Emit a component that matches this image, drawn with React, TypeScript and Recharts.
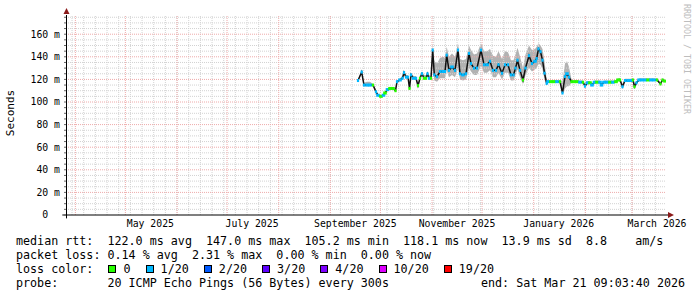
import { Area, ComposedChart, Line, ReferenceDot, ReferenceLine, XAxis, YAxis } from 'recharts';

// time axis: days since graph start (end - 360 days)
const START = new Date(2025, 2, 26, 9, 3, 40).getTime();
const SPAN_DAYS = 360;
const Y_MAX = 177;
const dayOf = (y: number, m: number, d: number) => (new Date(y, m, d).getTime() - START) / 864e5;

const days = [
  175.2, 177.4, 178.8, 180.6, 182.4, 184.2, 186.0, 187.2, 189.0, 190.5, 191.4, 192.9, 194.4, 196.2, 197.7, 198.6,
  200.4, 201.9, 202.8, 204.0, 205.2, 206.1, 207.0, 208.5, 210.0, 211.2, 212.4, 213.6, 214.8, 216.0, 216.9, 217.8, 219.0,
  220.0, 221.0, 222.6, 224.4, 226.2, 227.4, 228.4, 229.8, 231.6, 233.4, 235.2, 236.4, 238.2, 240.0, 241.8, 243.0,
  244.8, 246.6, 249.0, 250.8, 252.6, 254.4, 256.2, 258.0, 259.5, 261.6, 263.4, 265.2, 267.0, 268.5, 269.7, 270.9,
  272.4, 274.2, 275.7, 277.8, 279.6, 281.4, 282.4, 283.5, 284.7, 285.9, 287.1, 288.4,
  289.2, 291.0, 292.8, 294.6, 296.4, 297.9, 299.4, 300.6, 301.8, 303.3, 304.8, 306.6, 308.4, 310.2, 311.4, 312.9,
  314.4, 315.6, 317.1, 318.6, 320.4, 321.3, 322.8, 324.6, 326.4, 328.2, 330.0, 331.2, 332.4, 333.9, 335.4, 337.2,
  339.0, 340.2, 341.1, 342.3, 343.8, 345.6, 347.4, 349.2, 351.0, 352.8, 354.6, 356.7, 357.9, 359.4,
];

// median rtt in ms
const medianMs = [
  119, 126.5, 115, 115, 115, 115, 109, 106, 105, 106, 108, 111, 112, 112, 110, 118,
  119.5, 121, 126, 122, 122, 112, 124, 121, 121, 114.5, 121, 125, 121, 121, 125, 121, 121,
  146, 124, 122.5, 127, 127, 127, 141.5, 128, 131, 128, 146, 125, 124, 125, 143, 134,
  130, 130, 146, 133, 133, 136, 128, 128, 133, 125.5, 133, 133, 124, 124, 130, 137,
  128, 119.5, 130, 141, 134, 136, 138.5, 147, 144.5, 137, 125.5, 116.5,
  118, 118, 118, 118, 118, 108, 122.5, 125, 122, 118, 118, 118, 117.5, 117.5, 114, 117,
  117, 115, 117.5, 117.5, 117.5, 115, 117.5, 117.5, 117.5, 117.5, 118, 119.5, 119.5, 113.5, 119, 119,
  119, 119.5, 113.5, 117, 119.5, 119.5, 119.5, 119.5, 119.5, 119.5, 119.5, 116, 119.5, 118.5,
];

// lost pings out of 20
const lossOf20 = [
  1, 1, 1, 1, 1, 0, 1, 1, 0, 1, 0, 1, 0, 0, 0, 1,
  1, 1, 1, 1, 1, 0, 1, 1, 1, 0, 0, 1, 0, 0, 1, 1, 0,
  1, 1, 1, 1, 1, 1, 1, 1, 1, 1, 1, 1, 1, 1, 1, 1,
  1, 1, 1, 1, 1, 1, 1, 1, 1, 1, 1, 1, 1, 1, 1, 1,
  1, 0, 1, 1, 1, 1, 1, 1, 1, 1, 1, 1,
  1, 0, 0, 1, 0, 1, 1, 1, 1, 0, 0, 0, 1, 0, 1, 1,
  0, 1, 1, 0, 1, 1, 1, 1, 0, 1, 0, 0, 0, 1, 1, 1,
  1, 0, 0, 1, 1, 1, 1, 0, 1, 1, 0, 0, 0, 0,
];

// smoke extent (ms)
const smokeLoMs = [
  118, 125, 114, 114, 114, 114, 108, 105, 104, 105, 107, 110, 111, 111, 109, 117,
  118.5, 120, 125, 121, 121, 111, 123, 120, 120, 113.5, 120, 124, 120, 120, 124, 120, 120,
  132, 119, 118, 121, 121, 121, 128, 122, 124, 122, 130, 120, 119, 120, 130, 127,
  124, 124, 132, 126, 126, 128, 122, 122, 126, 120, 126, 126, 119, 119, 124, 129,
  122, 116, 124, 130, 127, 129, 130, 134, 133, 129, 120, 115,
  117, 117, 117, 117, 117, 107, 112, 114, 114, 117, 117, 117, 116.5, 116.5, 113, 116,
  116, 114, 116.5, 116.5, 116.5, 114, 116.5, 116.5, 116.5, 116.5, 117, 118.5, 118.5, 112.5, 118, 118,
  118, 118.5, 112.5, 116, 118.5, 118.5, 118.5, 118.5, 118.5, 118.5, 118.5, 115, 118.5, 117.5,
];
const smokeHiMs = [
  120, 128, 117, 118, 118, 116, 110, 107, 106, 107, 109, 112, 113, 113, 111, 119,
  121, 123, 128, 124, 124, 113, 126, 123, 123, 116, 124, 127, 124, 124, 127, 124, 123,
  150, 136, 134, 139, 140, 139, 149, 140, 143, 140, 152, 138, 137, 138, 150, 146,
  142, 143, 152, 145, 145, 147, 141, 140, 145, 138, 145, 144, 137, 137, 142, 148,
  140, 130, 142, 150, 146, 147, 149, 152, 150, 147, 136, 120,
  119.5, 119.5, 119.5, 119.5, 119.5, 118, 134, 136, 131, 120, 119.5, 119.5, 119, 119, 116, 118.5,
  118.5, 116.5, 119, 119, 119, 116.5, 119, 119, 119, 119, 119.5, 121, 121, 116, 120.5, 120.5,
  120.5, 121, 116, 118.5, 121, 121, 121, 121, 121, 121, 121, 117.5, 121, 120,
];

const lossSteps = ['0', '1/20', '2/20', '3/20', '4/20', '10/20', '19/20'];
const lossColors = ['#26ff00', '#00b8ff', '#0059ff', '#5e00ff', '#7e00ff', '#dd00ff', '#ff0000'];

const monthLabels = ['May 2025', 'July 2025', 'September 2025', 'November 2025', 'January 2026', 'March 2026'];
const labelMonths: [number, number][] = [[2025, 4], [2025, 6], [2025, 8], [2025, 10], [2026, 0], [2026, 2]];

const rows = days.map((t, i) => ({
  t,
  med: medianMs[i],
  loss: lossOf20[i],
  smoke: [smokeLoMs[i], smokeHiMs[i]],
  // steep points get a short colour mark so the black trace shows through
  steep:
    Math.abs(medianMs[i] - (medianMs[i - 1] ?? medianMs[i])) > 3 ||
    Math.abs(medianMs[i] - (medianMs[i + 1] ?? medianMs[i])) > 3,
}));

const monthLines: number[] = [];
for (let m = 3; m < 15; m++) monthLines.push(dayOf(2025, m, 1));
const weekLines: number[] = [];
for (let d = dayOf(2025, 2, 30), i = 0; d < SPAN_DAYS; i++, d = dayOf(2025, 2, 30 + 7 * i)) weekLines.push(d);
const labelTicks = labelMonths.map(([y, m]) => dayOf(y, m, 1) + 15);

const minorY: number[] = [];
for (let v = 5; v <= 175; v += 5) if (v % 20) minorY.push(v);
const majorY = [20, 40, 60, 80, 100, 120, 140, 160];
const yTicks: number[] = [];
for (let v = 0; v <= 175; v += 5) yTicks.push(v);

const MONO = '"DejaVu Sans Mono", monospace';

const lossColor = (n: number) => lossColors[n === 0 ? 0 : n === 1 ? 1 : n === 2 ? 2 : n === 3 ? 3 : n <= 5 ? 4 : n <= 10 ? 5 : 6];

// eslint-disable-next-line @typescript-eslint/no-explicit-any
const LossDot = (p: any) => {
  if (p.cx == null || p.cy == null) return <g key={p.index} />;
  const w = p.payload.steep ? 2.2 : 3.6;
  return <rect key={p.index} x={p.cx - w / 2} y={p.cy - 1.5} width={w} height={3} fill={lossColor(p.payload.loss)} />;
};

// eslint-disable-next-line @typescript-eslint/no-explicit-any
const YTick = ({ x, y, payload }: any) => {
  const v = payload.value as number;
  if (v % 20) return <g />;
  return (
    <text x={x} y={y} dy="0.35em" textAnchor="end" fontSize={9.8} fontFamily={MONO} fill="#000" style={{ whiteSpace: 'pre' }}>
      {v === 0 ? '0\u00a0\u00a0' : `${v} m`}
    </text>
  );
};

// eslint-disable-next-line @typescript-eslint/no-explicit-any
const XTick = ({ x, y, payload, index }: any) => (
  <text x={x} y={y} dy="0.71em" textAnchor="middle" fontSize={9.8} fontFamily={MONO} fill="#000">
    {monthLabels[index] ?? String(payload.value)}
  </text>
);

const ARROW = '#8b1a1a';

export default function App() {
  const legendLine = { position: 'absolute' as const, left: 16, whiteSpace: 'pre' as const, fontFamily: MONO, fontSize: 11.7, lineHeight: '14px', color: '#000' };
  return (
    <div style={{ position: 'absolute', left: 0, top: 0, width: 697, height: 297, background: '#fff', overflow: 'hidden' }}>
      <ComposedChart width={697} height={297} data={rows} margin={{ top: 15, right: 31, bottom: 52, left: 0 }}>
        {minorY.map((v) => (
          <ReferenceLine key={`hy${v}`} y={v} stroke="#d2d2d2" strokeDasharray="1 1" />
        ))}
        {weekLines.map((d) => (
          <ReferenceLine key={`wx${d}`} x={d} stroke="#d2d2d2" strokeDasharray="1 1" />
        ))}
        {majorY.map((v) => (
          <ReferenceLine key={`my${v}`} y={v} stroke="#eeaaaa" strokeDasharray="1 1" />
        ))}
        {monthLines.map((d) => (
          <ReferenceLine key={`mx${d}`} x={d} stroke="#eeaaaa" strokeDasharray="1 1" />
        ))}

        <XAxis
          type="number"
          dataKey="t"
          domain={[0, SPAN_DAYS]}
          allowDataOverflow
          ticks={labelTicks}
          tick={<XTick />}
          tickLine={false}
          axisLine={false}
          tickSize={0}
          tickMargin={5}
          height={30}
          interval={0}
        />
        <YAxis
          type="number"
          domain={[0, Y_MAX]}
          allowDataOverflow
          ticks={yTicks}
          tick={<YTick />}
          tickLine={{ stroke: '#666' }}
          axisLine={false}
          tickSize={2}
          tickMargin={4}
          width={66}
          interval={0}
        />

        {/* smoke */}
        <Area
          type="linear"
          dataKey="smoke"
          stroke="none"
          fill="#b2b2b2"
          fillOpacity={1}
          isAnimationActive={false}
        />
        {/* median, coloured by loss */}
        <Line
          type="linear"
          dataKey="med"
          stroke="#111"
          strokeWidth={1.5}
          dot={LossDot}
          activeDot={false}
          isAnimationActive={false}
        />

        {/* axes with arrows */}
        <ReferenceLine segment={[{ x: -2.2, y: 0 }, { x: SPAN_DAYS + 1.2, y: 0 }]} stroke="#000" ifOverflow="visible" />
        <ReferenceLine segment={[{ x: 0.3, y: -3 }, { x: 0.3, y: Y_MAX }]} stroke="#000" ifOverflow="visible" />
        <ReferenceDot
          x={SPAN_DAYS}
          y={0}
          ifOverflow="visible"
          // eslint-disable-next-line @typescript-eslint/no-explicit-any
          shape={(p: any) => <path d={`M${p.cx + 2},${p.cy - 3} L${p.cx + 8},${p.cy} L${p.cx + 2},${p.cy + 3} Z`} fill={ARROW} />}
        />
        <ReferenceDot
          x={0.3}
          y={Y_MAX}
          ifOverflow="visible"
          // eslint-disable-next-line @typescript-eslint/no-explicit-any
          shape={(p: any) => <path d={`M${p.cx - 3},${p.cy - 1} L${p.cx},${p.cy - 7} L${p.cx + 3},${p.cy - 1} Z`} fill={ARROW} />}
        />
      </ComposedChart>

      <div
        style={{
          position: 'absolute',
          left: 10,
          top: 113,
          transform: 'translate(-50%, -50%) rotate(-90deg)',
          fontFamily: MONO,
          fontSize: 11,
          whiteSpace: 'nowrap',
        }}
      >
        Seconds
      </div>
      <div
        style={{
          position: 'absolute',
          left: 682,
          top: 4,
          writingMode: 'vertical-rl',
          fontFamily: MONO,
          fontSize: 8.3,
          color: '#bdbdbd',
          whiteSpace: 'nowrap',
        }}
      >
        RRDTOOL / TOBI OETIKER
      </div>

      <div style={{ ...legendLine, top: 234 }}>
        {'median rtt:  122.0 ms avg  147.0 ms max  105.2 ms min  118.1 ms now  13.9 ms sd  8.8    am/s'}
      </div>
      <div style={{ ...legendLine, top: 248 }}>{'packet loss: 0.14 % avg  2.31 % max  0.00 % min  0.00 % now'}</div>
      <div style={{ ...legendLine, top: 262, display: 'flex', alignItems: 'center' }}>
        <span>{'loss color:  '}</span>
        {lossSteps.map((s, i) => (
          <span key={s} style={{ display: 'inline-flex', alignItems: 'center' }}>
            <span
              style={{
                display: 'inline-block',
                width: 8,
                height: 8,
                marginLeft: 1,
                marginRight: 7,
                background: lossColors[i],
                border: '1px solid #000',
                boxSizing: 'border-box',
              }}
            />
            <span>{s + (i < lossSteps.length - 1 ? '  ' : '')}</span>
          </span>
        ))}
      </div>
      <div style={{ ...legendLine, top: 276 }}>{'probe:       20 ICMP Echo Pings (56 Bytes) every 300s'}</div>
      <div style={{ ...legendLine, left: 481, top: 276 }}>{'end: Sat Mar 21 09:03:40 2026'}</div>
    </div>
  );
}
